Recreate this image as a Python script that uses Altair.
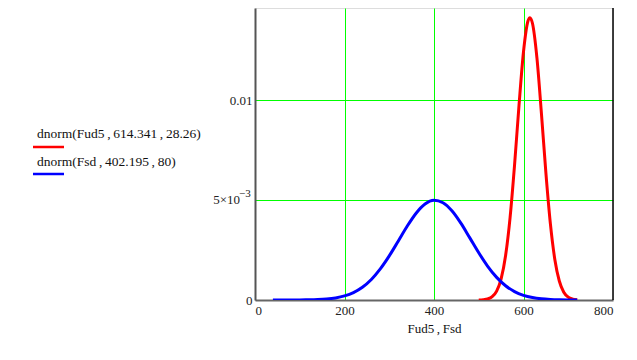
import altair as alt
import pandas as pd

# Blue curve: dnorm(Fsd, 402.195, 80)
fsd_x = [40, 60, 80, 100, 120, 140, 160, 180, 200, 220, 240, 260, 280, 300, 320, 340, 360, 380,
         400, 420, 440, 460, 480, 500, 520, 540, 560, 580, 600, 620, 640, 660, 680, 700, 720]
fsd_y = [0.0000002, 0.0000005, 0.0000015, 0.000004, 0.0000099, 0.000023, 0.000051, 0.000105,
         0.000205, 0.000373, 0.000639, 0.001028, 0.001554, 0.002206, 0.002942, 0.003686, 0.004339,
         0.004799, 0.004985, 0.004865, 0.00446, 0.003841, 0.003107, 0.002362, 0.001686, 0.001131,
         0.000713, 0.000422, 0.000235, 0.000123, 0.00006, 0.000028, 0.000012, 0.0000049, 0.0000017]

# Red curve: dnorm(Fud5, 614.341, 28.26)
fud_x = [500, 510, 520, 530, 540, 550, 560, 570, 580, 590, 600, 610, 614.341, 620, 630, 640,
         650, 660, 670, 680, 690, 700, 710, 720]
fud_y = [0.0000039, 0.0000155, 0.000054, 0.000164, 0.000443, 0.001056, 0.002222, 0.004122,
         0.006747, 0.009742, 0.012412, 0.013952, 0.014117, 0.013837, 0.012108, 0.009348, 0.006368,
         0.003827, 0.002029, 0.000949, 0.000392, 0.000143, 0.000046, 0.000013]

T = "\u2009"
legend_labels = [f"dnorm(Fud5{T},{T}614.341{T},{T}28.26)", f"dnorm(Fsd{T},{T}402.195{T},{T}80)"]
x_title = f"Fud5{T},{T}Fsd"
x_ticks = [0, 200, 400, 600, 800]
y_ticks = [0, 0.005, 0.01]

df = pd.concat([
    pd.DataFrame({"x": fud_x, "y": fud_y, "s": "fud"}),
    pd.DataFrame({"x": fsd_x, "y": fsd_y, "s": "fsd"}),
])

W, H = 358, 292
YMAX = 0.015 * 292 / 300
FONT = "Liberation Serif"

xscale = alt.Scale(domain=[0, 800], nice=False, zero=False)
yscale = alt.Scale(domain=[0, YMAX], nice=False, zero=False)

grid_cond = {"condition": {"test": "datum.value == 0 || datum.value == 800", "value": "transparent"},
             "value": "#00ff00"}

lines = alt.Chart(df).mark_line(strokeWidth=3, interpolate="monotone", clip=True).encode(
    x=alt.X("x:Q", scale=xscale, title=x_title,
            axis=alt.Axis(values=x_ticks, grid=True, gridColor=grid_cond, gridWidth=1,
                          ticks=False, domainColor="#666666", domainWidth=2, zindex=0,
                          labelFont=FONT, labelFontSize=13, labelColor="#222222",
                          labelPadding=4, titleFont=FONT, titleFontSize=13,
                          titleFontWeight="normal", titleColor="#111111", titlePadding=5)),
    y=alt.Y("y:Q", scale=yscale, title=None,
            axis=alt.Axis(values=y_ticks, grid=True, gridColor=grid_cond, gridWidth=1,
                          ticks=False, domainColor="#555555", domainWidth=2, zindex=0,
                          labelExpr="datum.value == 0 ? '0' : (datum.value == 0.005 ? '' : '0.01')",
                          labelFont=FONT, labelFontSize=13, labelColor="#222222",
                          labelPadding=3)),
    color=alt.Color("s:N", scale=alt.Scale(domain=["fud", "fsd"], range=["#ff0000", "#0000ff"]),
                    legend=None),
    detail="s:N",
)

frame = alt.Chart(pd.DataFrame({"x": [800]})).mark_rule(color="#000000", strokeWidth=1.5).encode(
    x=alt.X("x:Q", scale=xscale), y=alt.value(0), y2=alt.value(H))

# y label 5×10^-3 with a real superscript
sup = pd.DataFrame({"v": [0.005]})
lab_base = alt.Chart(sup).mark_text(align="right", baseline="middle", font=FONT, fontSize=13,
                                    color="#222222").encode(
    x=alt.value(-15), y=alt.Y("v:Q", scale=yscale), text=alt.value("5×10"))
lab_exp = alt.Chart(sup).mark_text(align="left", baseline="middle", font=FONT, fontSize=11,
                                   color="#222222", dy=-6).encode(
    x=alt.value(-16), y=alt.Y("v:Q", scale=yscale), text=alt.value("−3"))

leg = pd.DataFrame({"label": legend_labels, "c": ["#ff0000", "#0000ff"],
                    "ty": [130, 158], "ly": [139, 166]})
leg_text = alt.Chart(leg).mark_text(align="left", baseline="alphabetic", font=FONT,
                                    fontSize=13.5, color="#111111").encode(
    text="label:N", x=alt.value(-218), y=alt.Y("ty:Q", scale=None))
leg_line = alt.Chart(leg).mark_rule(strokeWidth=2.5).encode(
    x=alt.value(-222), x2=alt.value(-191), y=alt.Y("ly:Q", scale=None),
    color=alt.Color("c:N", scale=None))

chart = alt.layer(lines, frame, lab_base, lab_exp, leg_text, leg_line).properties(
    width=W, height=H,
    padding={"left": 247, "top": 0, "right": 16, "bottom": 52},
    autosize=alt.AutoSizeParams(type="none"),
).configure_view(stroke=None).configure(background="white")

chart.save("out.html", embed_options={"renderer": "svg", "actions": False})
